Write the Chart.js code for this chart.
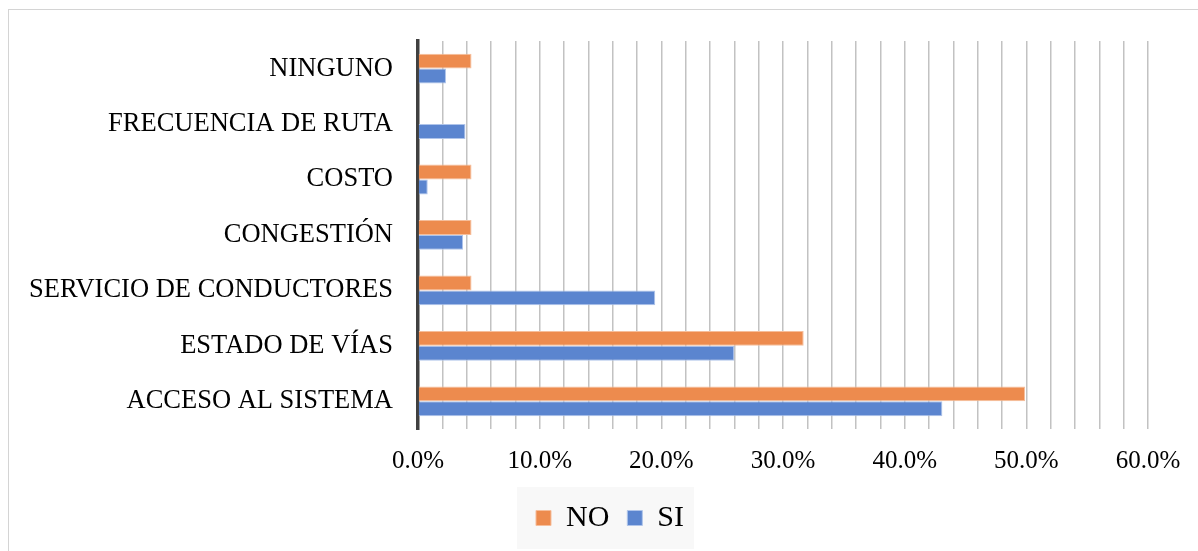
<!DOCTYPE html>
<html>
<head>
<meta charset="utf-8">
<script src="https://cdn.jsdelivr.net/npm/chart.js@4"></script>
<style>
  html, body { margin: 0; padding: 0; background: #fff; }
  #frame { position: absolute; left: 8px; top: 9px; width: 1200px; height: 560px; border: 1.5px solid #d4d4d4; }
  #wrap { position: absolute; left: 0; top: 0; width: 1198px; height: 551px; }
</style>
</head>
<body>
<div id="frame"></div>
<div id="wrap"><canvas id="chart" width="1198" height="551"></canvas></div>
<script>
const categories = ['NINGUNO', 'FRECUENCIA DE RUTA', 'COSTO', 'CONGESTIÓN', 'SERVICIO DE CONDUCTORES', 'ESTADO DE VÍAS', 'ACCESO AL SISTEMA'];
const noValues = [4.4, 0, 4.4, 4.4, 4.4, 31.7, 49.9];
const siValues = [2.3, 3.9, 0.8, 3.7, 19.5, 26.0, 43.1];
const seriesNames = ['NO', 'SI'];

const serif = "'Liberation Serif', 'Times New Roman', serif";

// legend is centred on the whole frame in the original, not on the plot
const legendShift = {
  id: 'legendShift',
  afterLayout(chart) {
    const lg = chart.legend;
    if (!lg) return;
    lg.left += 36;
    lg.right += 36;
    (lg.legendHitBoxes || []).forEach(b => { b.left += 36; });
  }
};

// light box behind the legend
const legendBox = {
  id: 'legendBox',
  beforeDraw(chart) {
    const lg = chart.legend;
    if (!lg || !lg.legendHitBoxes || !lg.legendHitBoxes.length) return;
    const boxes = lg.legendHitBoxes;
    const left = Math.min(...boxes.map(b => b.left)) - 19;
    const right = Math.max(...boxes.map(b => b.left + b.width)) + 10;
    const cy = boxes[0].top + boxes[0].height / 2;
    const ctx = chart.ctx;
    ctx.save();
    ctx.fillStyle = '#f8f8f8';
    ctx.fillRect(left, cy - 31, right - left, 62);
    ctx.restore();
  }
};

const ctx = document.getElementById('chart').getContext('2d');
const chart = new Chart(ctx, {
  type: 'bar',
  data: {
    labels: categories,
    datasets: [{
      label: seriesNames[0],
      data: noValues,
      backgroundColor: '#ED8B4E',
      borderColor: '#F6BE9B',
      borderWidth: 1,
      barPercentage: 1,
      categoryPercentage: 0.537
    }, {
      label: seriesNames[1],
      data: siValues,
      backgroundColor: '#5B85CF',
      borderColor: '#AFC4EA',
      borderWidth: 1,
      barPercentage: 1,
      categoryPercentage: 0.537
    }]
  },
  options: {
    indexAxis: 'y',
    responsive: false,
    animation: false,
    layout: { padding: { top: 39, right: 50, bottom: 8, left: 0 } },
    plugins: {
      tooltip: { enabled: false },
      legend: {
        position: 'bottom',
        labels: {
          font: { family: serif, size: 30 },
          color: '#000',
          boxWidth: 15,
          boxHeight: 15,
          padding: 18
        }
      }
    },
    scales: {
      x: {
        min: 0,
        max: 60,
        ticks: {
          stepSize: 2,
          autoSkip: false,
          maxRotation: 0,
          padding: 17,
          color: '#000',
          font: { family: serif, size: 25 },
          callback: v => (v % 10 === 0 ? v.toFixed(1) + '%' : '')
        },
        grid: {
          drawTicks: false,
          color: c => (c.tick && c.tick.value === 0 ? 'rgba(0,0,0,0)' : '#c2c2c2'),
          lineWidth: 1.5
        },
        border: { display: false },
        afterFit: s => { s.height = 56; }
      },
      y: {
        ticks: {
          padding: 25,
          color: '#000',
          font: { family: serif, size: 26.5 }
        },
        grid: { display: false, drawTicks: false },
        border: { display: true, color: '#404040', width: 3.5 },
        afterFit: s => { s.width = 418; }
      }
    }
  },
  plugins: [legendShift, legendBox]
});
</script>
</body>
</html>
